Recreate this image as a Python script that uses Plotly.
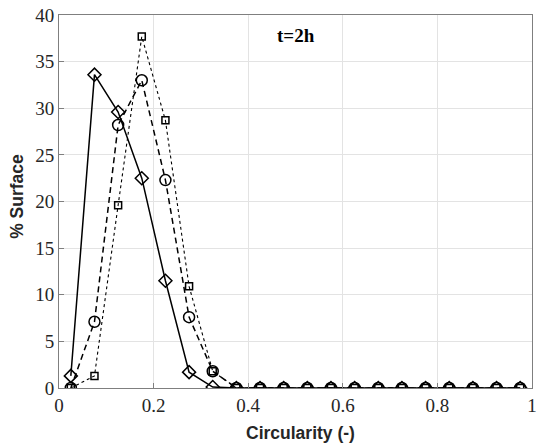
import plotly.graph_objects as go

x_vals = [0.025, 0.075, 0.125, 0.175, 0.225, 0.275, 0.325, 0.375, 0.425, 0.475,
          0.525, 0.575, 0.625, 0.675, 0.725, 0.775, 0.825, 0.875, 0.925, 0.975]
diamond_vals = [1.3, 33.6, 29.6, 22.5, 11.5, 1.7, 0.1, 0, 0, 0, 0, 0, 0, 0, 0, 0, 0, 0, 0, 0]
circle_vals = [0, 7.1, 28.2, 33.0, 22.3, 7.6, 1.8, 0, 0, 0, 0, 0, 0, 0, 0, 0, 0, 0, 0, 0]
square_vals = [0, 1.3, 19.6, 37.7, 28.7, 10.9, 1.8, 0, 0, 0, 0, 0, 0, 0, 0, 0, 0, 0, 0, 0]

x_ticks = [0, 0.2, 0.4, 0.6, 0.8, 1]
x_tick_labels = ["0", "0.2", "0.4", "0.6", "0.8", "1"]
y_ticks = [0, 5, 10, 15, 20, 25, 30, 35, 40]
y_tick_labels = ["0", "5", "10", "15", "20", "25", "30", "35", "40"]

fig = go.Figure()
fig.add_trace(go.Scatter(x=x_vals, y=square_vals, mode="lines+markers",
                         line=dict(color="black", width=1.1, dash="dot"),
                         marker=dict(symbol="square-open", size=7, color="black", line=dict(width=1.5))))
fig.add_trace(go.Scatter(x=x_vals, y=circle_vals, mode="lines+markers",
                         line=dict(color="black", width=1.5, dash="6px,4px"),
                         marker=dict(symbol="circle-open", size=11, color="black", line=dict(width=1.5))))
fig.add_trace(go.Scatter(x=x_vals, y=diamond_vals, mode="lines+markers",
                         line=dict(color="black", width=1.5),
                         marker=dict(symbol="diamond-open", size=10, color="black", line=dict(width=1.5))))

serif = "Liberation Serif"
sans = "Liberation Sans"

fig.add_annotation(x=0.502, y=37.85, text="<b>t=2h</b>", showarrow=False,
                   font=dict(family=serif, size=19, color="black"))
fig.add_annotation(xref="paper", yref="paper", x=0.51, y=-0.12, text="<b>Circularity (-)</b>",
                   showarrow=False, xanchor="center", yanchor="middle",
                   font=dict(family=sans, size=17.5, color="#262626"))
fig.add_annotation(xref="paper", yref="paper", x=-0.089, y=0.515, text="<b>% Surface</b>",
                   showarrow=False, xanchor="center", yanchor="middle", textangle=-90,
                   font=dict(family=sans, size=17.5, color="#262626"))

tick_font = dict(family=serif, size=19, color="#262626")

fig.update_xaxes(range=[0, 1], tickmode="array", tickvals=x_ticks, ticktext=x_tick_labels,
                 tickfont=tick_font, automargin=False, ticklabeloverflow="allow",
                 showline=True, linecolor="#7f7f7f", linewidth=1, mirror=True,
                 ticks="inside", ticklen=5, tickcolor="#7f7f7f",
                 showgrid=True, gridcolor="#e3e3e3", gridwidth=1, zeroline=False)
fig.update_yaxes(range=[0, 40], tickmode="array", tickvals=y_ticks, ticktext=y_tick_labels,
                 tickfont=tick_font, automargin=False, ticklabeloverflow="allow",
                 showline=True, linecolor="#7f7f7f", linewidth=1, mirror=True,
                 ticks="inside", ticklen=5, tickcolor="#7f7f7f",
                 showgrid=True, gridcolor="#e3e3e3", gridwidth=1, zeroline=False)

fig.update_layout(width=539, height=448, showlegend=False,
                  font=dict(family=serif, size=19, color="#262626"),
                  plot_bgcolor="white", paper_bgcolor="white",
                  margin=dict(l=59, r=7, t=15, b=60, autoexpand=False))

fig.write_html("out.html", config={"displayModeBar": False},
               post_script="document.body.style.margin='0';document.body.style.overflow='hidden';")
